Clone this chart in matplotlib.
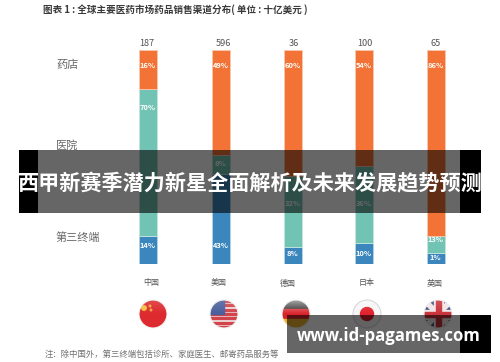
import numpy as np
import matplotlib
matplotlib.use('Agg')
import matplotlib.pyplot as plt
from matplotlib.patches import Circle, Rectangle, Polygon

plt.rcParams['font.family'] = ['Noto Sans CJK SC', 'DejaVu Sans']

countries = ['中国', '美国', '德国', '日本', '英国']
totals = [187, 596, 36, 100, 65]
# 图上印的百分比
terminal_pct = [14, 43, 8, 10, 1]
hospital_pct = [70, 8, 32, 36, 13]
pharmacy_pct = [16, 49, 60, 54, 86]
# 柱子实际画出的高度（和标签不完全一致）
terminal = [13, 42, 8, 10, 5]
hospital = [69, 9, 33, 36, 8]
pharmacy = [18, 49, 59, 54, 87]
channels = ['药店', '医院', '第三终端']
title = '图表 1 : 全球主要医药市场药品销售渠道分布( 单位 : 十亿美元 )'
note = '注：除中国外，第三终端包括诊所、家庭医生、邮寄药品服务等'
banner = '西甲新赛季潜力新星全面解析及未来发展趋势预测'
site = 'www.id-pagames.com'

# 像素位置
bar_x = [147.5, 220.5, 292.5, 364, 435.5]
total_x = [147, 223, 294, 365, 436]
country_x = [151, 219, 288, 367, 435]
flag_x = [153, 224, 296, 367, 438]
flag_y = 314
flag_r = 14
terminal_label_y = [246, 246, 253, 253, 258]
hospital_label_y = [108, 163, 203, 203, 240]
pharmacy_label_y = [66, 66, 66, 66, 66]

ORANGE = '#f37235'
TEAL = '#71c3b3'
BLUE = '#3b86bd'

fig = plt.figure(figsize=(5, 3.62), dpi=100)

# 堆叠柱状图
ax = fig.add_axes([0, (362 - 264) / 362, 1, 214 / 362])
ax.set_xlim(0, 500)
ax.set_ylim(0, 100)
ax.axis('off')
terminal_arr = np.array(terminal)
hospital_arr = np.array(hospital)
pharmacy_arr = np.array(pharmacy)
ax.bar(bar_x, terminal_arr, width=18, color=BLUE, edgecolor='#b5d3e8', linewidth=0.6)
ax.bar(bar_x, hospital_arr, width=18, bottom=terminal_arr, color=TEAL,
       edgecolor='#c4e6df', linewidth=0.6)
ax.bar(bar_x, pharmacy_arr, width=18, bottom=terminal_arr + hospital_arr, color=ORANGE,
       edgecolor='#f9c7ae', linewidth=0.6)

# 文字和国旗用像素坐标
ov = fig.add_axes([0, 0, 1, 1], zorder=3)
ov.set_xlim(0, 500)
ov.set_ylim(362, 0)
ov.axis('off')
ov.patch.set_alpha(0)

for pcts, ys in [(terminal_pct, terminal_label_y), (hospital_pct, hospital_label_y),
                 (pharmacy_pct, pharmacy_label_y)]:
    for x, v, y in zip(bar_x, pcts, ys):
        ov.text(x, y, f'{v}%', color='white', fontsize=5.4, fontweight='bold',
                ha='center', va='center')

ov.text(43, 10, title, fontsize=6.9, fontweight='bold', color='#3a3a3a',
        ha='left', va='center')
for x, t in zip(total_x, totals):
    ov.text(x, 43, str(t), fontsize=6.6, color='#555555', ha='center', va='center')
for y, name in zip([65, 146, 238], channels):
    ov.text(56, y, name, fontsize=8, color='#666666', ha='left', va='center')
for x, name in zip(country_x, countries):
    ov.text(x, 283, name, fontsize=5.8, fontweight='medium', color='#555555',
            ha='center', va='center')
ov.text(45, 354, note, fontsize=6, color='#707070', ha='left', va='center')


def draw_flag(cx, kind):
    clip = Circle((cx, flag_y), flag_r, transform=ov.transData)
    parts = []
    left, top = cx - flag_r, flag_y - flag_r
    d = 2 * flag_r
    gloss = 0.15
    if kind == '中国':
        parts.append(Rectangle((left, top), d, d, color='#dd2a2e'))
        parts.append(Circle((cx - 9, flag_y - 6), 2.2, color='#f2c23c'))
        parts.append(Circle((cx - 3, flag_y - 8), 0.8, color='#f2a23c'))
        parts.append(Circle((cx - 2, flag_y - 4), 0.8, color='#f2a23c'))
    elif kind == '美国':
        parts.append(Rectangle((left, top), d, d, color='#f4f0f0'))
        for i in range(0, 13, 2):
            parts.append(Rectangle((left, top + i * d / 13), d, d / 13, color='#d2444c'))
        parts.append(Rectangle((left, top), d * 0.5, d * 0.5, color='#4a5f9c'))
    elif kind == '德国':
        parts.append(Rectangle((left, top), d, d / 3, color='#222222'))
        parts.append(Rectangle((left, top + d / 3), d, d / 3, color='#d8232a'))
        parts.append(Rectangle((left, top + 2 * d / 3), d, d / 3, color='#eeb32c'))
        gloss = 0.6
    elif kind == '日本':
        parts.append(Rectangle((left, top), d, d, color='#f6f6f6'))
        parts.append(Circle((cx, flag_y), 6.5, color='#e0222e'))
    else:
        parts.append(Rectangle((left, top), d, d, color='#3d4a84'))
        for sx in (-1, 1):
            parts.append(Polygon([(cx - 14, flag_y - sx * 14 - 3), (cx - 14, flag_y - sx * 14 + 3),
                                  (cx + 14, flag_y + sx * 14 + 3), (cx + 14, flag_y + sx * 14 - 3)],
                                 color='#f1e6e6'))
        parts.append(Rectangle((cx - 4.5, top), 9, d, color='#f1e6e6'))
        parts.append(Rectangle((left, flag_y - 4.5), d, 9, color='#f1e6e6'))
        parts.append(Rectangle((cx - 2.5, top), 5, d, color='#c9343c'))
        parts.append(Rectangle((left, flag_y - 2.5), d, 5, color='#c9343c'))
    for p in parts:
        ov.add_patch(p)
        p.set_clip_path(clip)
    # 球面高光
    yy, xx = np.mgrid[-1:1:60j, -1:1:60j]
    shade = np.zeros((60, 60, 4))
    shade[..., :3] = 1.0
    shade[..., 3] = np.clip(gloss * (-yy), 0, 0.6)
    im = ov.imshow(shade, extent=(left, left + d, top + d, top), zorder=4,
                   aspect='auto', interpolation='bilinear')
    im.set_clip_path(clip)
    ring = '#d9d9d9' if kind == '日本' else '#f2f2f2'
    ov.add_patch(Circle((cx, flag_y), flag_r, fill=False, edgecolor=ring,
                        linewidth=0.8, zorder=5))


for x, name in zip(flag_x, countries):
    draw_flag(x, name)
ov.set_xlim(0, 500)
ov.set_ylim(362, 0)

# 横幅和网址
ov.add_patch(Rectangle((19, 150), 19, 63, color='black', zorder=6, linewidth=0))
ov.add_patch(Rectangle((460, 150), 21, 63, color='black', zorder=6, linewidth=0))
ov.add_patch(Rectangle((38, 150), 422, 63, color='black', alpha=0.6, zorder=6, linewidth=0))
ov.text(250, 184, banner, fontsize=15.2, fontweight='bold', color='white',
        ha='center', va='center', zorder=7)
ov.add_patch(Rectangle((460, 315), 31, 38, color='black', zorder=6, linewidth=0))
ov.add_patch(Rectangle((287, 315), 173, 38, color='black', alpha=0.6, zorder=6, linewidth=0))
ov.text(388.5, 336, site, fontsize=12.1, fontweight='bold', color='white',
        family='Open Sans', ha='center', va='center', zorder=7)

fig.savefig('out.png', dpi=100)
